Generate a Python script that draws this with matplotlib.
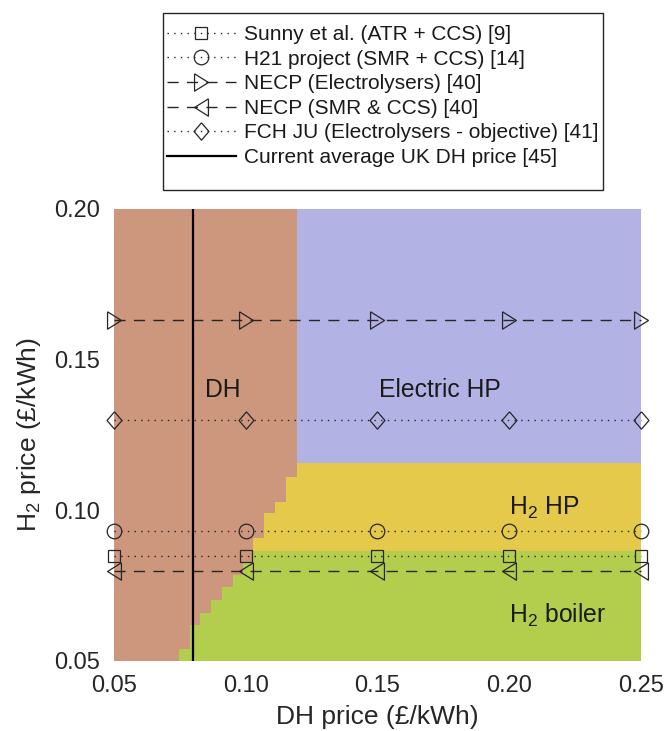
import numpy as np
from matplotlib import pyplot as plt
from matplotlib.colors import ListedColormap
from matplotlib.patches import Rectangle

plt.rcParams['font.family'] = ['Liberation Sans', 'DejaVu Sans']
plt.rcParams['mathtext.fontset'] = 'custom'
plt.rcParams['mathtext.rm'] = 'Liberation Sans'

# DH price points where the H2 price lines are marked
dh_prices = [0.05, 0.10, 0.15, 0.20, 0.25]
h2_sunny = 0.085
h2_h21 = 0.093
h2_necp_elec = 0.163
h2_necp_smr = 0.080
h2_fch = 0.130
dh_current = 0.08

# staircase of the DH region: H2 price bands and the DH price below which DH wins
band_edges = [0.05, 0.0539, 0.0619, 0.0660, 0.0702, 0.0744, 0.0785, 0.0829,
              0.0907, 0.0990, 0.1029, 0.1112, 0.20]
dh_limit = [0.0745, 0.0787, 0.0826, 0.0867, 0.0909, 0.0950, 0.0990, 0.1028,
            0.1069, 0.1111, 0.1153, 0.1195]
ehp_over_h2hp = 0.1156   # above this H2 price: electric HP
h2hp_over_boiler = 0.0866  # above this: H2 HP, below: H2 boiler

region_names = ['DH', 'Electric HP', 'H2 HP', 'H2 boiler']
region_colors = ['#CC977D', '#B2B2E5', '#E5C94B', '#B3CD4D']

# build the category grid
y_edges = np.unique(band_edges + [ehp_over_h2hp, h2hp_over_boiler])
x_edges = np.unique([0.05, 0.25] + dh_limit)
cat = np.zeros((len(y_edges) - 1, len(x_edges) - 1))
for i in range(len(y_edges) - 1):
    ym = (y_edges[i] + y_edges[i + 1]) / 2
    b = np.searchsorted(band_edges, ym) - 1
    for j in range(len(x_edges) - 1):
        xm = (x_edges[j] + x_edges[j + 1]) / 2
        if xm < dh_limit[b]:
            cat[i, j] = 0
        elif ym > ehp_over_h2hp:
            cat[i, j] = 1
        elif ym > h2hp_over_boiler:
            cat[i, j] = 2
        else:
            cat[i, j] = 3

fig = plt.figure(figsize=(6.65, 7.31), dpi=100)
ax = fig.add_axes([0.1714, 0.0958, 0.7925, 0.6183])
ax.pcolormesh(x_edges, y_edges, cat, cmap=ListedColormap(region_colors),
              vmin=-0.5, vmax=3.5, zorder=1)


def marker(verts):
    return [tuple(v) for v in verts] + [tuple(verts[0])]


tri_right = marker([(-0.8, 1), (0.8, 0), (-0.8, -1)])
tri_left = marker([(0.8, 1), (-0.8, 0), (0.8, -1)])
diamond = marker([(0, 1), (0.86, 0), (0, -1), (-0.86, 0)])

lc = '#262626'
dots = (1, 3.8)
dash = (8, 6)
common = dict(color=lc, lw=1, mfc='none', mec=lc, mew=0.9, zorder=3, clip_on=False)

ax.plot(dh_prices, [h2_sunny] * len(dh_prices), marker='s', ms=9, dashes=dots,
        label='Sunny et al. (ATR + CCS) [9]', **common)
ax.plot(dh_prices, [h2_h21] * len(dh_prices), marker='o', ms=10.5, dashes=dots,
        label='H21 project (SMR + CCS) [14]', **common)
ax.plot(dh_prices, [h2_necp_elec] * len(dh_prices), marker=tri_right, ms=12.5, dashes=dash,
        label='NECP (Electrolysers) [40]', **common)
ax.plot(dh_prices, [h2_necp_smr] * len(dh_prices), marker=tri_left, ms=12.5, dashes=dash,
        label='NECP (SMR & CCS) [40]', **common)
ax.plot(dh_prices, [h2_fch] * len(dh_prices), marker=diamond, ms=12.5, dashes=dots,
        label='FCH JU (Electrolysers - objective) [41]', **common)
ax.axvline(dh_current, color='black', lw=1.6, zorder=4,
           label='Current average UK DH price [45]')

ax.text(0.0845, 0.140, 'DH', fontsize=17.8, va='center', ha='left', color='#1a1a1a', zorder=5)
ax.text(0.1505, 0.140, 'Electric HP', fontsize=17.8, va='center', ha='left', color='#1a1a1a', zorder=5)
ax.text(0.1998, 0.1018, r'H$\mathregular{_2}$ HP', fontsize=17.8, va='center_baseline', ha='left',
        color='#1a1a1a', zorder=5)
ax.text(0.1998, 0.0662, r'H$\mathregular{_2}$ boiler', fontsize=17.8, va='center_baseline', ha='left',
        color='#1a1a1a', zorder=5)

ax.set_xlim(0.05, 0.25)
ax.set_ylim(0.05, 0.20)
ax.set_xticks([0.05, 0.10, 0.15, 0.20, 0.25])
ax.set_yticks([0.05, 0.10, 0.15, 0.20])
ax.set_xticklabels(['0.05', '0.10', '0.15', '0.20', '0.25'])
ax.set_yticklabels(['0.05', '0.10', '0.15', '0.20'])
ax.tick_params(length=0, labelsize=17, colors='#262626', pad=10)
for s in ax.spines.values():
    s.set_visible(False)
ax.set_xlabel('DH price (£/kWh)', fontsize=19, color='#262626', labelpad=6)
ax.set_ylabel(r'H$\mathregular{_2}$ price (£/kWh)', fontsize=19, color='#262626', labelpad=8)

leg = fig.legend(loc='upper left', bbox_to_anchor=(167 / 665, 1 - 25 / 731),
                 fontsize=15, handlelength=3.3, handletextpad=0.4, labelspacing=0.27,
                 borderpad=0, borderaxespad=0, frameon=False)
for t in leg.get_texts():
    t.set_color('#1a1a1a')

# legend box drawn on its own, matching the original padding
fig.patches.append(Rectangle((163 / 665, 1 - 190 / 731), 440 / 665, 177 / 731,
                             transform=fig.transFigure, fill=False,
                             edgecolor='#262626', lw=1))

plt.savefig('out.png', dpi=100)
